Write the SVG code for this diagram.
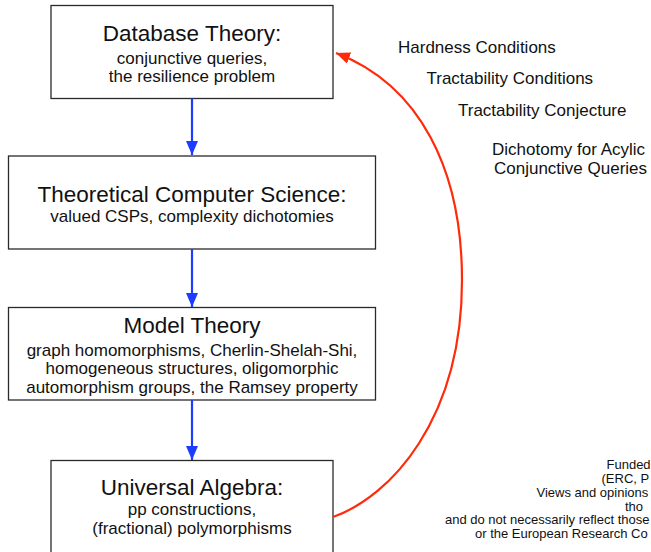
<svg xmlns="http://www.w3.org/2000/svg" width="651" height="552" viewBox="0 0 651 552">
<style>
text{font-family:"Liberation Sans",Arial,Helvetica,sans-serif;fill:#111}
.box{fill:#fff;stroke:#2a2a2a;stroke-width:1.3}
.t{font-size:22.5px;text-anchor:middle}
.s{font-size:17px;text-anchor:middle}
.r{font-size:17px}
.f{font-size:13px}
.blue{stroke:#1c3cff;stroke-width:2.2;fill:none}
.red{stroke:#ff2a0a;stroke-width:2.2;fill:none}
</style>
<defs>
<marker id="ab" markerUnits="userSpaceOnUse" markerWidth="14" markerHeight="12" refX="14" refY="6" orient="auto"><path d="M0,0 L14,6 L0,12 Z" fill="#1c3cff"/></marker>
<marker id="ar" markerUnits="userSpaceOnUse" markerWidth="14" markerHeight="12" refX="14" refY="6" orient="auto"><path d="M0,0 L14,6 L0,12 Z" fill="#ff2a0a"/></marker>
</defs>
<g id="db"><rect class="box" x="51" y="5.5" width="282" height="93"/>
<text class="t" x="192" y="41">Database Theory:</text>
<text class="s" x="192" y="64">conjunctive queries,</text>
<text class="s" x="192" y="82">the resilience problem</text></g>
<g id="tcs"><rect class="box" x="8.5" y="156" width="367" height="93"/>
<text class="t" x="192" y="201.5">Theoretical Computer Science:</text>
<text class="s" x="192" y="221.5">valued CSPs, complexity dichotomies</text></g>
<g id="mt"><rect class="box" x="8.5" y="307.5" width="367" height="92.5"/>
<text class="t" x="192" y="333">Model Theory</text>
<text class="s" x="192" y="355.5">graph homomorphisms, Cherlin-Shelah-Shi,</text>
<text class="s" x="192" y="374">homogeneous structures, oligomorphic</text>
<text class="s" x="192" y="392.5">automorphism groups, the Ramsey property</text></g>
<g id="ua"><rect class="box" x="51" y="460.5" width="282" height="100"/>
<text class="t" x="192" y="495">Universal Algebra:</text>
<text class="s" x="192" y="515">pp constructions,</text>
<text class="s" x="192" y="533.5">(fractional) polymorphisms</text></g>
<g id="connectors">
<line class="blue" x1="192" y1="98.5" x2="192" y2="155" marker-end="url(#ab)"/>
<line class="blue" x1="192" y1="249" x2="192" y2="307" marker-end="url(#ab)"/>
<line class="blue" x1="192" y1="400" x2="192" y2="460" marker-end="url(#ab)"/>
<path class="red" d="M333,517 C390,497 462,420 462,280 C462,170 420,85 336,53" marker-end="url(#ar)"/>
</g>
<g id="labels">
<text class="r" x="398" y="52.5">Hardness Conditions</text>
<text class="r" x="426.5" y="84">Tractability Conditions</text>
<text class="r" x="458" y="115.5">Tractability Conjecture</text>
<text class="r" x="492" y="155">Dichotomy for Acylic</text>
<text class="r" x="494" y="173.5">Conjunctive Queries</text>
</g>
<g id="funding">
<text class="f" x="606.5" y="469">Funded</text>
<text class="f" x="601.5" y="483">(ERC, P</text>
<text class="f" x="536.5" y="496.5">Views and opinions</text>
<text class="f" x="625" y="510.5">tho</text>
<text class="f" x="445" y="524">and do not necessarily reflect those</text>
<text class="f" x="475" y="538">or the European Research Co</text>
</g>
</svg>
